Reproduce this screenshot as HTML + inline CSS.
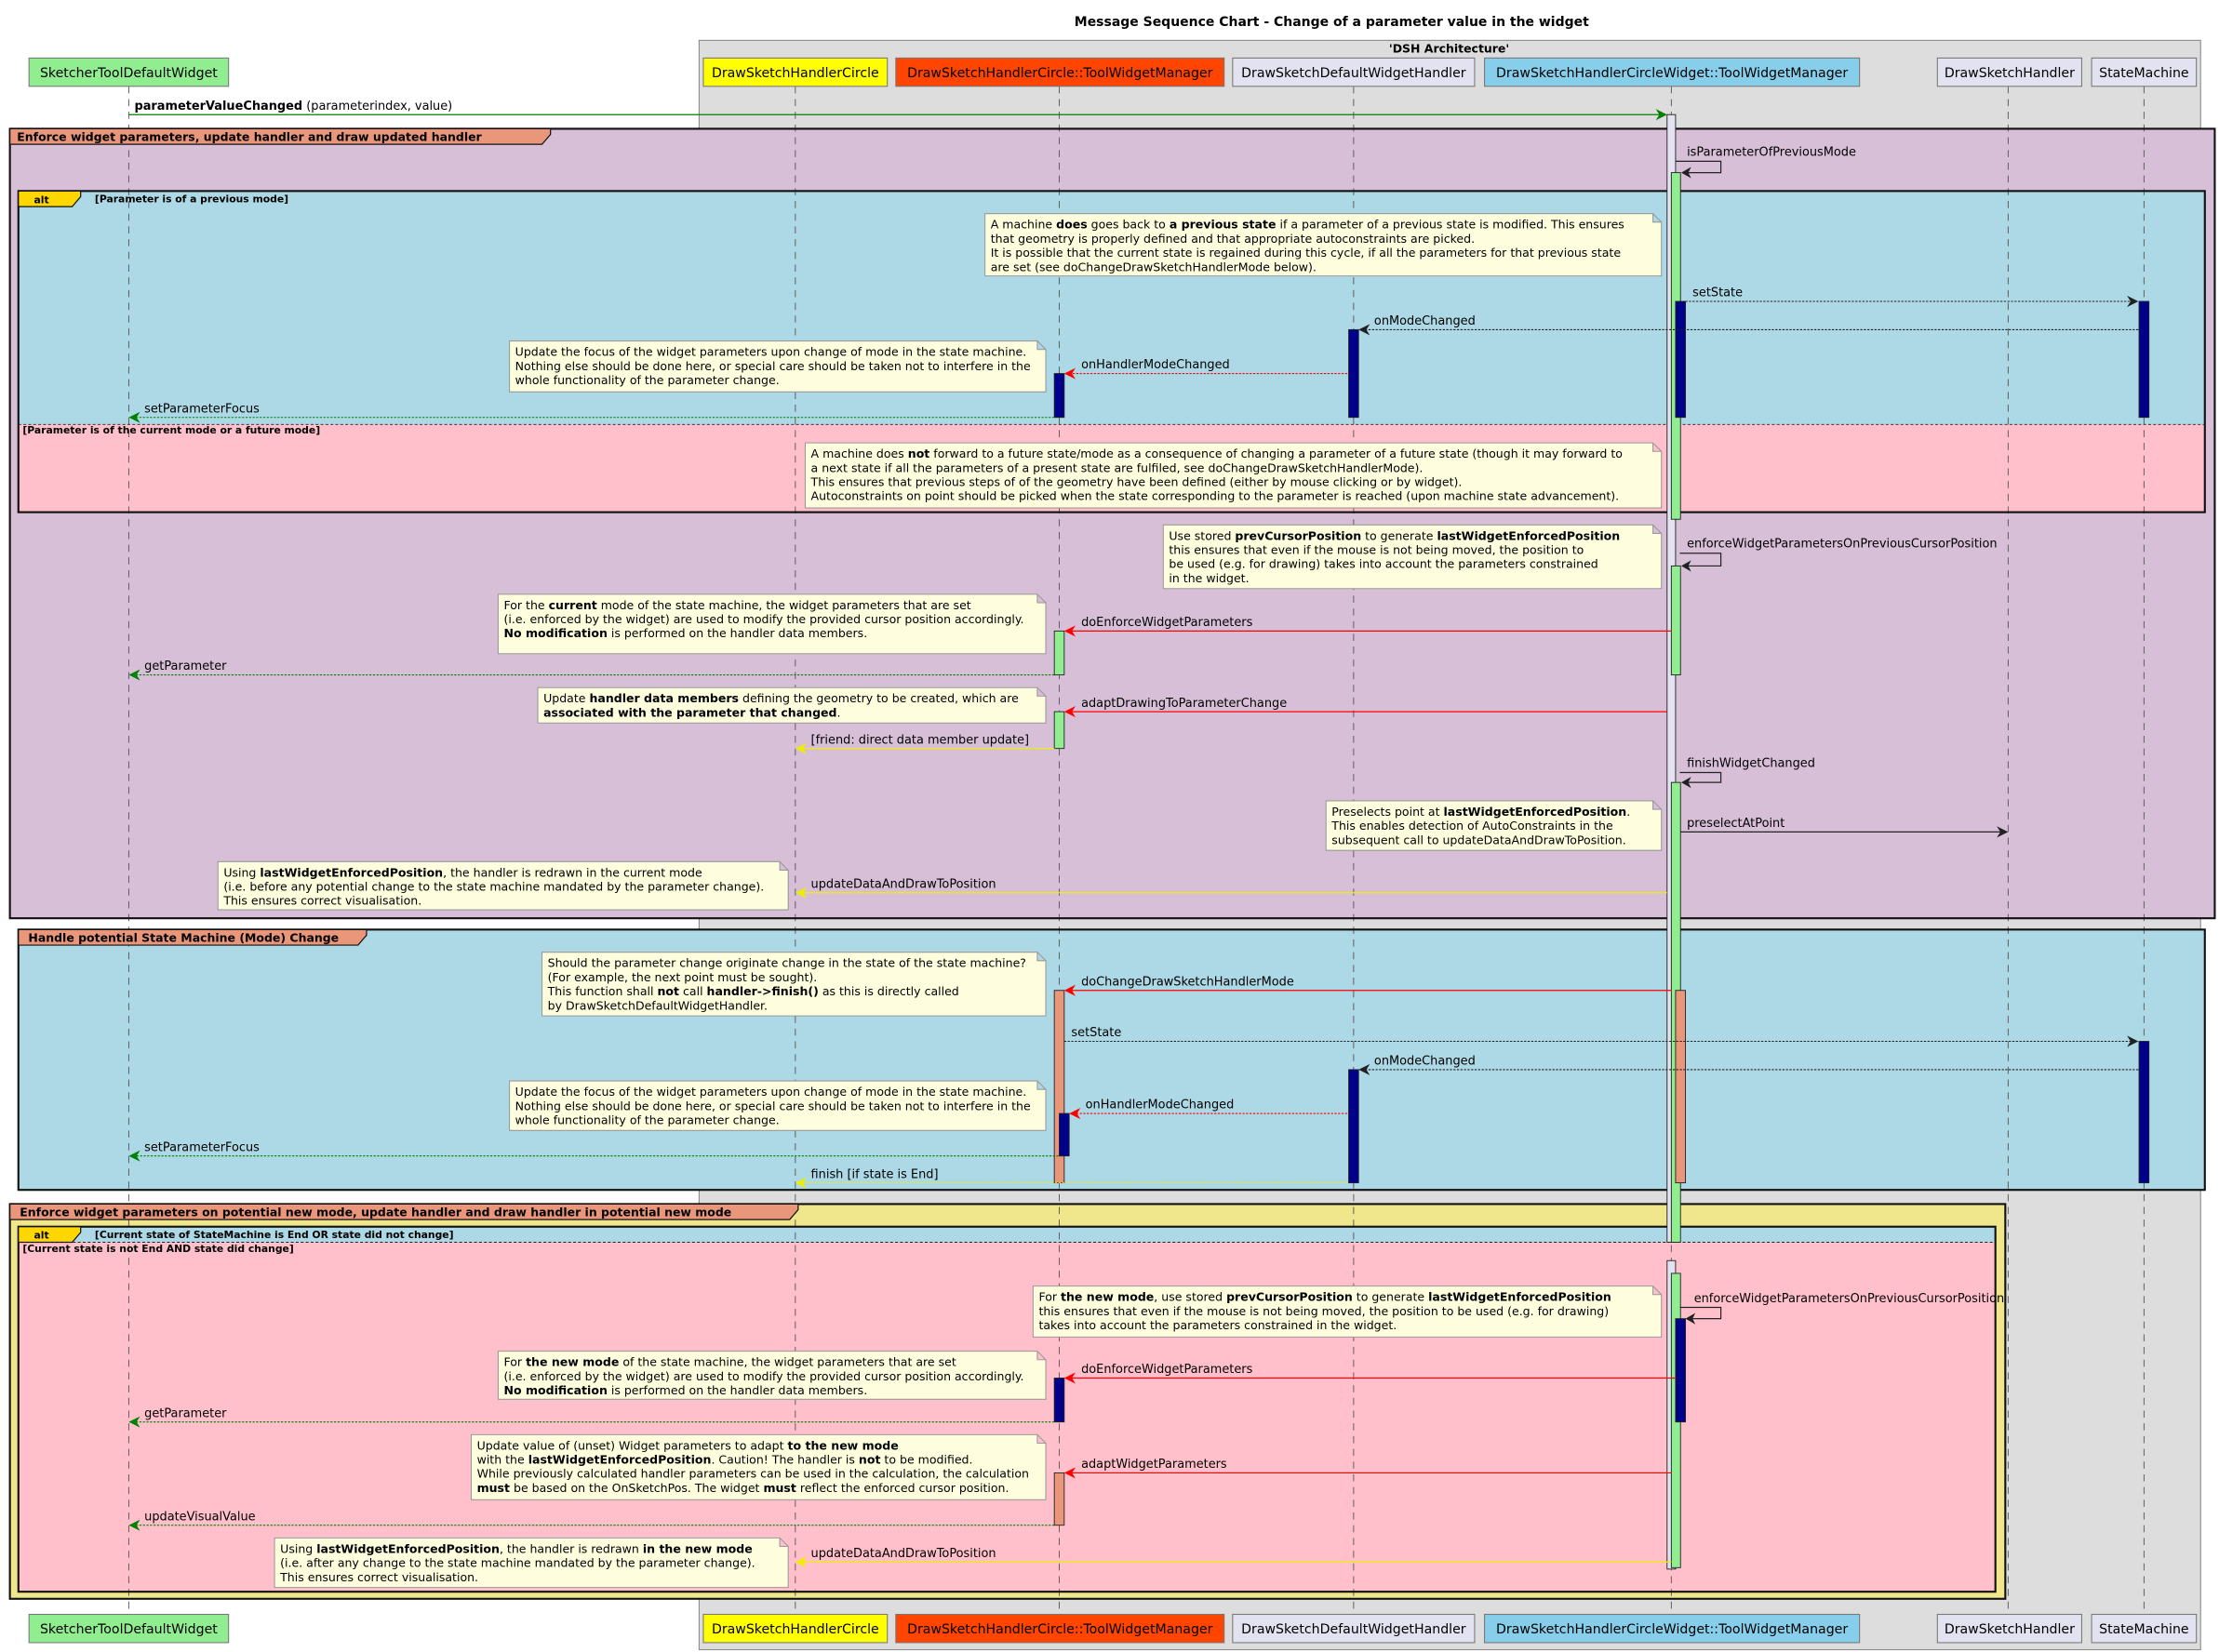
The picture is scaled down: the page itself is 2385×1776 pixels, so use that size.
<!DOCTYPE html>
<html><head><meta charset="utf-8"><style>
html,body{margin:0;padding:0;background:#fff;}
svg{display:block;}
text{font-family:"DejaVu Sans","Liberation Sans",sans-serif;}
.p{font-size:9.3px;}
.m{font-size:8.5px;}
.n{font-size:8.25px;}
.g{font-size:8.2px;font-weight:bold;}
.a{font-size:7.1px;font-weight:bold;}
.b{font-weight:bold;}
.ll{stroke:#555;stroke-width:0.6;stroke-dasharray:5,4;}
.fr{fill:none;stroke:#111;stroke-width:1.4;}
.note{fill:#FEFEDE;stroke:#999;stroke-width:0.7;}
.act{stroke:#222;stroke-width:0.6;}
</style></head><body>
<svg width="2385" height="1776" viewBox="0 0 1568 1167.6" xmlns="http://www.w3.org/2000/svg">
<rect x="0" y="0" width="1568" height="1168" fill="#fff"/>
<text x="941" y="18.5" text-anchor="middle" style="font-size:9.2px;font-weight:bold">Message Sequence Chart - Change of a parameter value in the widget</text>
<rect x="494" y="28.5" width="1061" height="1137.5" fill="#DDDDDD" stroke="#888" stroke-width="0.7"/>
<text x="1024" y="37" text-anchor="middle" class="b" style="font-size:8.2px">'DSH Architecture'</text>

<rect x="7" y="91" width="1558" height="558" fill="#D8BFD8"/>
<rect x="13" y="135" width="1545" height="165" fill="#ADD8E6"/>
<rect x="13" y="300" width="1545" height="62" fill="#FFC0CB"/>
<rect x="13" y="657" width="1545" height="184" fill="#ADD8E6"/>
<rect x="7" y="851" width="1410" height="279" fill="#F0E68C"/>
<rect x="13" y="867" width="1397" height="11" fill="#ADD8E6"/>
<rect x="13" y="878" width="1397" height="247" fill="#FFC0CB"/>

<line class="ll" x1="91" y1="61" x2="91" y2="1141"/>
<line class="ll" x1="562" y1="61" x2="562" y2="1141"/>
<line class="ll" x1="748.5" y1="61" x2="748.5" y2="1141"/>
<line class="ll" x1="956.5" y1="61" x2="956.5" y2="1141"/>
<line class="ll" x1="1181" y1="61" x2="1181" y2="1141"/>
<line class="ll" x1="1419" y1="61" x2="1419" y2="1141"/>
<line class="ll" x1="1515" y1="61" x2="1515" y2="1141"/>

<rect class="fr" x="7" y="91" width="1558" height="558"/>
<polygon points="7,91 389,91 389,95 383,102 7,102" fill="#E9967A" stroke="#111" stroke-width="0.8"/>
<text x="12" y="99.5" class="g">Enforce widget parameters, update handler and draw updated handler</text>
<rect class="fr" x="13" y="135" width="1545" height="227"/>
<polygon points="13,135 57,135 57,139 51,146 13,146" fill="#FFD700" stroke="#111" stroke-width="0.8"/>
<text x="24" y="143.5" class="a">alt</text>
<text x="67" y="143" class="a">[Parameter is of a previous mode]</text>
<line x1="13" y1="300" x2="1558" y2="300" stroke="#222" stroke-width="0.6" stroke-dasharray="2,1.5"/>
<text x="16" y="306.5" class="a">[Parameter is of the current mode or a future mode]</text>

<rect class="fr" x="13" y="657" width="1545" height="184"/>
<polygon points="13,657 259,657 259,661 253,668 13,668" fill="#E9967A" stroke="#111" stroke-width="0.8"/>
<text x="20" y="665.5" class="g">Handle potential State Machine (Mode) Change</text>

<rect class="fr" x="7" y="851" width="1410" height="279"/>
<polygon points="7,851 564,851 564,855 558,862 7,862" fill="#E9967A" stroke="#111" stroke-width="0.8"/>
<text x="14" y="859.5" class="g">Enforce widget parameters on potential new mode, update handler and draw handler in potential new mode</text>
<rect class="fr" x="13" y="867" width="1397" height="258"/>
<polygon points="13,867 57,867 57,871 51,878 13,878" fill="#FFD700" stroke="#111" stroke-width="0.8"/>
<text x="24" y="875.5" class="a">alt</text>
<text x="67" y="875" class="a">[Current state of StateMachine is End OR state did not change]</text>
<line x1="13" y1="878" x2="1410" y2="878" stroke="#222" stroke-width="0.6" stroke-dasharray="2,1.5"/>
<text x="16" y="885" class="a">[Current state is not End AND state did change]</text>

<rect class="act" x="1178" y="81" width="6" height="797" fill="#E2E2F0"/>
<rect class="act" x="1181" y="122" width="6.5" height="245" fill="#90EE90"/>
<rect class="act" x="1184" y="213" width="7" height="82" fill="#00008B"/>
<rect class="act" x="1511.5" y="213" width="7" height="82" fill="#00008B"/>
<rect class="act" x="953" y="233" width="7" height="62" fill="#00008B"/>
<rect class="act" x="745" y="264" width="7" height="31" fill="#00008B"/>
<rect class="act" x="1181" y="400" width="6.5" height="77" fill="#90EE90"/>
<rect class="act" x="745" y="446" width="7" height="31" fill="#90EE90"/>
<rect class="act" x="745" y="503" width="7" height="26" fill="#90EE90"/>
<rect class="act" x="1181" y="553" width="6.5" height="325" fill="#90EE90"/>
<rect class="act" x="745" y="700" width="7" height="136" fill="#E9967A"/>
<rect class="act" x="1184" y="700" width="7" height="136" fill="#E9967A"/>
<rect class="act" x="1511.5" y="736" width="7" height="100" fill="#00008B"/>
<rect class="act" x="953" y="756" width="7" height="80" fill="#00008B"/>
<rect class="act" x="748.5" y="787" width="7" height="30" fill="#00008B"/>
<rect class="act" x="1178" y="891" width="6" height="218" fill="#E2E2F0"/>
<rect class="act" x="1181" y="900" width="6.5" height="208" fill="#90EE90"/>
<rect class="act" x="1184" y="932" width="7" height="73" fill="#00008B"/>
<rect class="act" x="745" y="974" width="7" height="31" fill="#00008B"/>
<rect class="act" x="745" y="1041" width="7" height="37" fill="#E9967A"/>

<line x1="91" y1="81" x2="1176" y2="81" stroke="#008000" stroke-width="0.8"/>
<polygon points="1178,81 1170,77 1172.5,81 1170,85" fill="#008000"/>
<text x="95" y="77.5" class="m"><tspan class="b">parameterValueChanged</tspan> (parameterindex, value)</text>

<path d="M1184,114 H1216 V122 H1189" fill="none" stroke="#222" stroke-width="0.8"/>
<polygon points="1188,122 1195,118 1193,122 1195,126" fill="#222"/>
<text x="1192" y="110" class="m">isParameterOfPreviousMode</text>

<line x1="1191" y1="213" x2="1509" y2="213" stroke="#222" stroke-width="0.7" stroke-dasharray="1.5,1"/>
<polygon points="1511,213 1503,209 1505.5,213 1503,217" fill="#222"/>
<text x="1196" y="209.5" class="m">setState</text>

<line x1="1511" y1="233" x2="962" y2="233" stroke="#222" stroke-width="0.7" stroke-dasharray="1.5,1"/>
<polygon points="960,233 968,229 965.5,233 968,237" fill="#222"/>
<text x="971" y="229.5" class="m">onModeChanged</text>

<line x1="952" y1="264" x2="754" y2="264" stroke="#f00" stroke-width="0.7" stroke-dasharray="1.5,1"/>
<polygon points="752,264 760,260 757.5,264 760,268" fill="#f00"/>
<text x="764" y="260.5" class="m">onHandlerModeChanged</text>

<line x1="745" y1="295" x2="93" y2="295" stroke="#008000" stroke-width="0.7" stroke-dasharray="1.5,1"/>
<polygon points="91,295 99,291 96.5,295 99,299" fill="#008000"/>
<text x="102" y="291.5" class="m">setParameterFocus</text>

<path d="M1187,391 H1216 V400 H1189" fill="none" stroke="#222" stroke-width="0.8"/>
<polygon points="1188,400 1195,396 1193,400 1195,404" fill="#222"/>
<text x="1192" y="387" class="m">enforceWidgetParametersOnPreviousCursorPosition</text>

<line x1="1181" y1="446" x2="754" y2="446" stroke="#f00" stroke-width="0.8"/>
<polygon points="752,446 760,442 757.5,446 760,450" fill="#f00"/>
<text x="764" y="442.5" class="m">doEnforceWidgetParameters</text>

<line x1="745" y1="477" x2="93" y2="477" stroke="#008000" stroke-width="0.7" stroke-dasharray="1.5,1"/>
<polygon points="91,477 99,473 96.5,477 99,481" fill="#008000"/>
<text x="102" y="473.5" class="m">getParameter</text>

<line x1="1178" y1="503" x2="754" y2="503" stroke="#f00" stroke-width="0.8"/>
<polygon points="752,503 760,499 757.5,503 760,507" fill="#f00"/>
<text x="764" y="499.5" class="m">adaptDrawingToParameterChange</text>

<line x1="745" y1="529" x2="564" y2="529" stroke="#ee0" stroke-width="0.8"/>
<polygon points="562,529 570,525 567.5,529 570,533" fill="#ee0"/>
<text x="573" y="525.5" class="m">[friend: direct data member update]</text>

<path d="M1187,546 H1216 V553 H1189" fill="none" stroke="#222" stroke-width="0.8"/>
<polygon points="1188,553 1195,549 1193,553 1195,557" fill="#222"/>
<text x="1192" y="542" class="m">finishWidgetChanged</text>

<line x1="1187.5" y1="588" x2="1417" y2="588" stroke="#222" stroke-width="0.8"/>
<polygon points="1419,588 1411,584 1413.5,588 1411,592" fill="#222"/>
<text x="1192" y="584.5" class="m">preselectAtPoint</text>

<line x1="1178" y1="631" x2="564" y2="631" stroke="#ee0" stroke-width="0.8"/>
<polygon points="562,631 570,627 567.5,631 570,635" fill="#ee0"/>
<text x="573" y="627.5" class="m">updateDataAndDrawToPosition</text>

<line x1="1181" y1="700" x2="754" y2="700" stroke="#f00" stroke-width="0.8"/>
<polygon points="752,700 760,696 757.5,700 760,704" fill="#f00"/>
<text x="764" y="696.5" class="m">doChangeDrawSketchHandlerMode</text>

<line x1="752" y1="736" x2="1509" y2="736" stroke="#222" stroke-width="0.7" stroke-dasharray="1.5,1"/>
<polygon points="1511,736 1503,732 1505.5,736 1503,740" fill="#222"/>
<text x="757" y="732.5" class="m">setState</text>

<line x1="1511" y1="756" x2="962" y2="756" stroke="#222" stroke-width="0.7" stroke-dasharray="1.5,1"/>
<polygon points="960,756 968,752 965.5,756 968,760" fill="#222"/>
<text x="971" y="752.5" class="m">onModeChanged</text>

<line x1="952" y1="787" x2="757" y2="787" stroke="#f00" stroke-width="0.7" stroke-dasharray="1.5,1"/>
<polygon points="755.5,787 763.5,783 761,787 763.5,791" fill="#f00"/>
<text x="767" y="783.5" class="m">onHandlerModeChanged</text>

<line x1="748" y1="817" x2="93" y2="817" stroke="#008000" stroke-width="0.7" stroke-dasharray="1.5,1"/>
<polygon points="91,817 99,813 96.5,817 99,821" fill="#008000"/>
<text x="102" y="813.5" class="m">setParameterFocus</text>

<line x1="952" y1="836" x2="564" y2="836" stroke="#ee0" stroke-width="0.7" stroke-dasharray="1.5,1"/>
<polygon points="562,836 570,832 567.5,836 570,840" fill="#ee0"/>
<text x="573" y="832.5" class="m">finish [if state is End]</text>

<path d="M1187,924 H1216 V932 H1192" fill="none" stroke="#222" stroke-width="0.8"/>
<polygon points="1191,932 1198,928 1196,932 1198,936" fill="#222"/>
<text x="1197" y="920.5" class="m">enforceWidgetParametersOnPreviousCursorPosition</text>

<line x1="1184" y1="974" x2="754" y2="974" stroke="#f00" stroke-width="0.8"/>
<polygon points="752,974 760,970 757.5,974 760,978" fill="#f00"/>
<text x="764" y="970.5" class="m">doEnforceWidgetParameters</text>

<line x1="745" y1="1005" x2="93" y2="1005" stroke="#008000" stroke-width="0.7" stroke-dasharray="1.5,1"/>
<polygon points="91,1005 99,1001 96.5,1005 99,1009" fill="#008000"/>
<text x="102" y="1001.5" class="m">getParameter</text>

<line x1="1181" y1="1041" x2="754" y2="1041" stroke="#f00" stroke-width="0.8"/>
<polygon points="752,1041 760,1037 757.5,1041 760,1045" fill="#f00"/>
<text x="764" y="1037.5" class="m">adaptWidgetParameters</text>

<line x1="745" y1="1078" x2="93" y2="1078" stroke="#008000" stroke-width="0.7" stroke-dasharray="1.5,1"/>
<polygon points="91,1078 99,1074 96.5,1078 99,1082" fill="#008000"/>
<text x="102" y="1074.5" class="m">updateVisualValue</text>

<line x1="1181" y1="1104" x2="564" y2="1104" stroke="#ee0" stroke-width="0.8"/>
<polygon points="562,1104 570,1100 567.5,1104 570,1108" fill="#ee0"/>
<text x="573" y="1100.5" class="m">updateDataAndDrawToPosition</text>

<g class="n">
<path class="note" d="M696,151 H1168 L1174,157 V195 H696 Z M1168,151 V157 H1174"/>
<text x="700" y="161.5">A machine <tspan class="b">does</tspan> goes back to <tspan class="b">a previous state</tspan> if a parameter of a previous state is modified. This ensures</text>
<text x="700" y="171.5">that geometry is properly defined and that appropriate autoconstraints are picked.</text>
<text x="700" y="181.5">It is possible that the current state is regained during this cycle, if all the parameters for that previous state</text>
<text x="700" y="191.5">are set (see doChangeDrawSketchHandlerMode below).</text>

<path class="note" d="M360,241 H733 L739,247 V277 H360 Z M733,241 V247 H739"/>
<text x="364" y="251.5">Update the focus of the widget parameters upon change of mode in the state machine.</text>
<text x="364" y="261.5">Nothing else should be done here, or special care should be taken not to interfere in the</text>
<text x="364" y="271.5">whole functionality of the parameter change.</text>

<path class="note" d="M569,313 H1168 L1174,319 V359 H569 Z M1168,313 V319 H1174"/>
<text x="573" y="323.5">A machine does <tspan class="b">not</tspan> forward to a future state/mode as a consequence of changing a parameter of a future state (though it may forward to</text>
<text x="573" y="333.5">a next state if all the parameters of a present state are fulfiled, see doChangeDrawSketchHandlerMode).</text>
<text x="573" y="343.5">This ensures that previous steps of of the geometry have been defined (either by mouse clicking or by widget).</text>
<text x="573" y="353.5">Autoconstraints on point should be picked when the state corresponding to the parameter is reached (upon machine state advancement).</text>

<path class="note" d="M822,371 H1168 L1174,377 V416 H822 Z M1168,371 V377 H1174"/>
<text x="826" y="381.5">Use stored <tspan class="b">prevCursorPosition</tspan> to generate <tspan class="b">lastWidgetEnforcedPosition</tspan></text>
<text x="826" y="391.5">this ensures that even if the mouse is not being moved, the position to</text>
<text x="826" y="401.5">be used (e.g. for drawing) takes into account the parameters constrained</text>
<text x="826" y="411.5">in the widget.</text>

<path class="note" d="M352,420 H733 L739,426 V462 H352 Z M733,420 V426 H739"/>
<text x="356" y="430.5">For the <tspan class="b">current</tspan> mode of the state machine, the widget parameters that are set</text>
<text x="356" y="440.5">(i.e. enforced by the widget) are used to modify the provided cursor position accordingly.</text>
<text x="356" y="450.5"><tspan class="b">No modification</tspan> is performed on the handler data members.</text>

<path class="note" d="M380,486 H733 L739,492 V511 H380 Z M733,486 V492 H739"/>
<text x="384" y="496.5">Update <tspan class="b">handler data members</tspan> defining the geometry to be created, which are</text>
<text x="384" y="506.5"><tspan class="b">associated with the parameter that changed</tspan>.</text>

<path class="note" d="M937,566 H1168 L1174,572 V601 H937 Z M1168,566 V572 H1174"/>
<text x="941" y="576.5">Preselects point at <tspan class="b">lastWidgetEnforcedPosition</tspan>.</text>
<text x="941" y="586.5">This enables detection of AutoConstraints in the</text>
<text x="941" y="596.5">subsequent call to updateDataAndDrawToPosition.</text>

<path class="note" d="M154,609 H551 L557,615 V643 H154 Z M551,609 V615 H557"/>
<text x="158" y="619.5">Using <tspan class="b">lastWidgetEnforcedPosition</tspan>, the handler is redrawn in the current mode</text>
<text x="158" y="629.5">(i.e. before any potential change to the state machine mandated by the parameter change).</text>
<text x="158" y="639.5">This ensures correct visualisation.</text>

<path class="note" d="M383,673 H733 L739,679 V718 H383 Z M733,673 V679 H739"/>
<text x="387" y="683.5">Should the parameter change originate change in the state of the state machine?</text>
<text x="387" y="693.5">(For example, the next point must be sought).</text>
<text x="387" y="703.5">This function shall <tspan class="b">not</tspan> call <tspan class="b">handler-&gt;finish()</tspan> as this is directly called</text>
<text x="387" y="713.5">by DrawSketchDefaultWidgetHandler.</text>

<path class="note" d="M360,764 H733 L739,770 V799 H360 Z M733,764 V770 H739"/>
<text x="364" y="774.5">Update the focus of the widget parameters upon change of mode in the state machine.</text>
<text x="364" y="784.5">Nothing else should be done here, or special care should be taken not to interfere in the</text>
<text x="364" y="794.5">whole functionality of the parameter change.</text>

<path class="note" d="M730,909 H1168 L1174,915 V945 H730 Z M1168,909 V915 H1174"/>
<text x="734" y="919.5">For <tspan class="b">the new mode</tspan>, use stored <tspan class="b">prevCursorPosition</tspan> to generate <tspan class="b">lastWidgetEnforcedPosition</tspan></text>
<text x="734" y="929.5">this ensures that even if the mouse is not being moved, the position to be used (e.g. for drawing)</text>
<text x="734" y="939.5">takes into account the parameters constrained in the widget.</text>

<path class="note" d="M352,955 H733 L739,961 V989 H352 Z M733,955 V961 H739"/>
<text x="356" y="965.5">For <tspan class="b">the new mode</tspan> of the state machine, the widget parameters that are set</text>
<text x="356" y="975.5">(i.e. enforced by the widget) are used to modify the provided cursor position accordingly.</text>
<text x="356" y="985.5"><tspan class="b">No modification</tspan> is performed on the handler data members.</text>

<path class="note" d="M333,1014 H733 L739,1020 V1060 H333 Z M733,1014 V1020 H739"/>
<text x="337" y="1024.5">Update value of (unset) Widget parameters to adapt <tspan class="b">to the new mode</tspan></text>
<text x="337" y="1034.5">with the <tspan class="b">lastWidgetEnforcedPosition</tspan>. Caution! The handler is <tspan class="b">not</tspan> to be modified.</text>
<text x="337" y="1044.5">While previously calculated handler parameters can be used in the calculation, the calculation</text>
<text x="337" y="1054.5"><tspan class="b">must</tspan> be based on the OnSketchPos. The widget  <tspan class="b">must</tspan>  reflect the enforced cursor position.</text>

<path class="note" d="M194,1087 H551 L557,1093 V1122 H194 Z M551,1087 V1093 H557"/>
<text x="198" y="1097.5">Using <tspan class="b">lastWidgetEnforcedPosition</tspan>, the handler is redrawn <tspan class="b">in the new mode</tspan></text>
<text x="198" y="1107.5">(i.e. after any change to the state machine mandated by the parameter change).</text>
<text x="198" y="1117.5">This ensures correct visualisation.</text>
</g>

<g class="p" stroke-width="0.7">
<rect x="20.5" y="41" width="141" height="20" fill="#90EE90" stroke="#777"/>
<text x="91" y="54.5" text-anchor="middle">SketcherToolDefaultWidget</text>
<rect x="497" y="41" width="130" height="20" fill="#FFFF00" stroke="#777"/>
<text x="562" y="54.5" text-anchor="middle">DrawSketchHandlerCircle</text>
<rect x="633" y="41" width="232" height="20" fill="#FF4500" stroke="#777"/>
<text x="749" y="54.5" text-anchor="middle">DrawSketchHandlerCircle::ToolWidgetManager</text>
<rect x="871" y="41" width="171" height="20" fill="#E2E2F0" stroke="#777"/>
<text x="956.5" y="54.5" text-anchor="middle">DrawSketchDefaultWidgetHandler</text>
<rect x="1049" y="41" width="265" height="20" fill="#87CEEB" stroke="#777"/>
<text x="1181.5" y="54.5" text-anchor="middle">DrawSketchHandlerCircleWidget::ToolWidgetManager</text>
<rect x="1369" y="41" width="102" height="20" fill="#E2E2F0" stroke="#777"/>
<text x="1420" y="54.5" text-anchor="middle">DrawSketchHandler</text>
<rect x="1478" y="41" width="74" height="20" fill="#E2E2F0" stroke="#777"/>
<text x="1515" y="54.5" text-anchor="middle">StateMachine</text>
</g>
<g class="p" stroke-width="0.7">
<rect x="20.5" y="1141" width="141" height="20" fill="#90EE90" stroke="#777"/>
<text x="91" y="1154.5" text-anchor="middle">SketcherToolDefaultWidget</text>
<rect x="497" y="1141" width="130" height="20" fill="#FFFF00" stroke="#777"/>
<text x="562" y="1154.5" text-anchor="middle">DrawSketchHandlerCircle</text>
<rect x="633" y="1141" width="232" height="20" fill="#FF4500" stroke="#777"/>
<text x="749" y="1154.5" text-anchor="middle">DrawSketchHandlerCircle::ToolWidgetManager</text>
<rect x="871" y="1141" width="171" height="20" fill="#E2E2F0" stroke="#777"/>
<text x="956.5" y="1154.5" text-anchor="middle">DrawSketchDefaultWidgetHandler</text>
<rect x="1049" y="1141" width="265" height="20" fill="#87CEEB" stroke="#777"/>
<text x="1181.5" y="1154.5" text-anchor="middle">DrawSketchHandlerCircleWidget::ToolWidgetManager</text>
<rect x="1369" y="1141" width="102" height="20" fill="#E2E2F0" stroke="#777"/>
<text x="1420" y="1154.5" text-anchor="middle">DrawSketchHandler</text>
<rect x="1478" y="1141" width="74" height="20" fill="#E2E2F0" stroke="#777"/>
<text x="1515" y="1154.5" text-anchor="middle">StateMachine</text>
</g>
</svg>
</body></html>
